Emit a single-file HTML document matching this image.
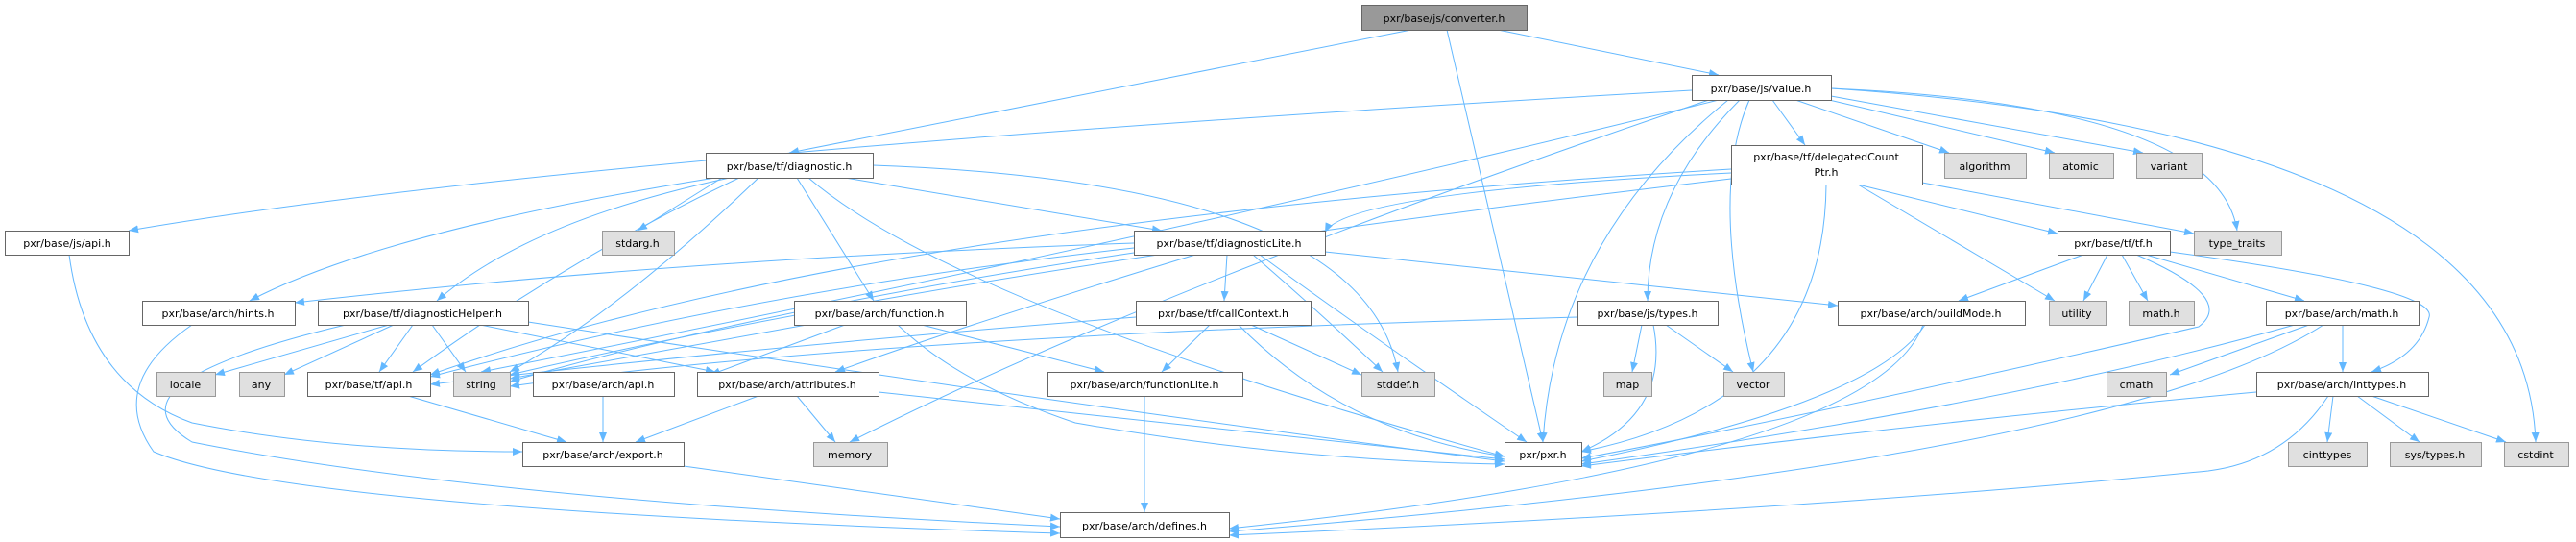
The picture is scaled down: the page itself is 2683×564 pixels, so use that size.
<!DOCTYPE html>
<html><head><meta charset="utf-8"><style>
html,body{margin:0;padding:0;background:#fff;}
svg{display:block}
text{font-family:"DejaVu Sans","Liberation Sans",sans-serif;font-size:11px;fill:#000;text-anchor:middle}
.w{fill:#fff;stroke:#666;stroke-width:1}
.g{fill:#e0e0e0;stroke:#999;stroke-width:1}
.r{fill:#999;stroke:#666;stroke-width:1}
.e{stroke:#63b8ff;stroke-width:1;fill:none;marker-end:url(#a)}
</style></head><body>
<svg width="2683" height="564" viewBox="0 0 2683 564" xmlns="http://www.w3.org/2000/svg">
<defs><marker id="a" markerWidth="10" markerHeight="8" refX="10" refY="4" orient="auto" markerUnits="userSpaceOnUse"><path d="M0,0 L10,4 L0,8 z" fill="#63b8ff"/></marker></defs>
<g>
<!-- converter -->
<path class="e" d="M1470,31 L822,159"/>
<path class="e" d="M1507,31 L1607,460"/>
<path class="e" d="M1560,31 L1790,78"/>
<!-- value -->
<path class="e" d="M1762,94 Q600,160 134,240"/>
<path class="e" d="M1780,104 Q1200,300 885,460"/>
<path class="e" d="M1790,104 Q1200,250 501,387"/>
<path class="e" d="M1800,104 Q1620,250 1607,460"/>
<path class="e" d="M1812,104 Q1716,200 1716,313"/>
<path class="e" d="M1822,104 Q1780,200 1826,387"/>
<path class="e" d="M1846,104 L1880,151"/>
<path class="e" d="M1870,104 L2030,159"/>
<path class="e" d="M1905,104 L2140,159"/>
<path class="e" d="M1907,100 L2232,159"/>
<path class="e" d="M1907,92 Q2310,110 2330,240"/>
<path class="e" d="M1907,92 Q2630,140 2641,460"/>
<!-- delegatedCountPtr -->
<path class="e" d="M1803,180 Q1400,200 1380,242"/>
<path class="e" d="M1803,176 Q900,230 448,390"/>
<path class="e" d="M1803,186 Q1000,280 531,390"/>
<path class="e" d="M1902,192 Q1900,420 1647,470"/>
<path class="e" d="M1935,192 L2143,243"/>
<path class="e" d="M1935,192 L2140,313"/>
<path class="e" d="M2002,190 L2285,243"/>
<!-- diagnostic -->
<path class="e" d="M752,185 L664,240"/>
<path class="e" d="M745,185 Q400,240 260,313"/>
<path class="e" d="M760,185 Q550,230 455,313"/>
<path class="e" d="M770,185 Q590,270 430,387"/>
<path class="e" d="M790,185 Q650,320 531,387"/>
<path class="e" d="M830,185 L910,313"/>
<path class="e" d="M842,185 Q1000,320 1567,475"/>
<path class="e" d="M880,185 L1210,240"/>
<path class="e" d="M909,172 Q1420,190 1456,387"/>
<!-- diagnosticLite -->
<path class="e" d="M1181,253 Q700,270 307,315"/>
<path class="e" d="M1181,258 Q800,300 448,392"/>
<path class="e" d="M1181,263 Q800,320 531,397"/>
<path class="e" d="M1245,265 Q1000,340 870,387"/>
<path class="e" d="M1278,265 L1275,313"/>
<path class="e" d="M1305,265 Q1380,330 1440,387"/>
<path class="e" d="M1312,265 Q1400,330 1590,460"/>
<path class="e" d="M1380,262 L1914,318"/>
<!-- diagnosticHelper -->
<path class="e" d="M405,338 L224,390"/>
<path class="e" d="M410,338 L296,390"/>
<path class="e" d="M430,338 L395,387"/>
<path class="e" d="M450,338 L485,387"/>
<path class="e" d="M500,338 L745,387"/>
<path class="e" d="M550,335 Q1100,420 1567,480"/>
<path class="e" d="M360,338 Q100,400 200,460 Q500,520 1104,548"/>
<!-- hints / jsapi -->
<path class="e" d="M200,338 Q110,400 160,470 Q300,530 1104,555"/>
<path class="e" d="M72,265 Q90,400 200,440 Q350,470 544,470"/>
<!-- tfapi, aapi, attr -->
<path class="e" d="M425,412 L590,460"/>
<path class="e" d="M628,412 L628,460"/>
<path class="e" d="M790,412 L662,460"/>
<path class="e" d="M830,412 L870,460"/>
<path class="e" d="M915,408 L1567,478"/>
<!-- function -->
<path class="e" d="M880,338 L740,390"/>
<path class="e" d="M840,338 L531,394"/>
<path class="e" d="M960,338 L1150,387"/>
<path class="e" d="M935,338 Q1000,400 1120,440 Q1350,480 1567,483"/>
<!-- callContext -->
<path class="e" d="M1183,330 Q800,360 448,400"/>
<path class="e" d="M1260,338 L1210,387"/>
<path class="e" d="M1303,338 L1418,390"/>
<path class="e" d="M1290,338 Q1400,450 1567,475"/>
<!-- functionLite, export -->
<path class="e" d="M1192,412 L1192,533"/>
<path class="e" d="M712,485 L1104,540"/>
<!-- types -->
<path class="e" d="M1643,330 Q900,350 531,402"/>
<path class="e" d="M1710,338 L1700,387"/>
<path class="e" d="M1722,338 Q1740,430 1647,470"/>
<path class="e" d="M1735,338 L1805,387"/>
<!-- tf.h -->
<path class="e" d="M2170,265 L2040,313"/>
<path class="e" d="M2195,265 L2170,313"/>
<path class="e" d="M2210,265 L2237,313"/>
<path class="e" d="M2235,265 L2400,313"/>
<path class="e" d="M2260,262 Q2540,300 2530,330 Q2520,370 2470,387"/>
<path class="e" d="M2225,265 Q2330,310 2290,340 Q1900,430 1647,477"/>
<!-- buildMode -->
<path class="e" d="M2005,338 Q1950,420 1647,480"/>
<path class="e" d="M2003,338 Q1950,480 1280,550"/>
<!-- arch/math -->
<path class="e" d="M2405,338 L2260,390"/>
<path class="e" d="M2440,338 L2440,387"/>
<path class="e" d="M2390,338 Q2100,420 1647,483"/>
<path class="e" d="M2420,338 Q2200,480 1280,553"/>
<!-- inttypes -->
<path class="e" d="M2430,412 L2424,460"/>
<path class="e" d="M2455,412 L2520,460"/>
<path class="e" d="M2470,412 L2610,460"/>
<path class="e" d="M2350,408 Q2000,440 1647,485"/>
<path class="e" d="M2425,412 Q2380,480 2300,490 Q1900,530 1280,557"/>
</g>
<g>
<rect class="r" x="1418.5" y="5.5" width="172" height="26"/><text x="1504" y="23">pxr/base/js/converter.h</text>
<rect class="w" x="1762.5" y="78.5" width="145" height="26"/><text x="1834" y="96">pxr/base/js/value.h</text>
<rect class="w" x="735.5" y="159.5" width="174" height="26"/><text x="822" y="177">pxr/base/tf/diagnostic.h</text>
<rect class="w" x="1803.5" y="151.5" width="199" height="41"/><text x="1902" y="167">pxr/base/tf/delegatedCount</text><text x="1902" y="183">Ptr.h</text>
<rect class="g" x="2025.5" y="159.5" width="85" height="26"/><text x="2067" y="177">algorithm</text>
<rect class="g" x="2134.5" y="159.5" width="67" height="26"/><text x="2167" y="177">atomic</text>
<rect class="g" x="2225.5" y="159.5" width="68" height="26"/><text x="2259" y="177">variant</text>
<rect class="w" x="5.5" y="240.5" width="129" height="25"/><text x="70" y="257">pxr/base/js/api.h</text>
<rect class="g" x="627.5" y="240.5" width="75" height="25"/><text x="664" y="257">stdarg.h</text>
<rect class="w" x="1181.5" y="240.5" width="199" height="25"/><text x="1280" y="257">pxr/base/tf/diagnosticLite.h</text>
<rect class="w" x="2143.5" y="240.5" width="117" height="25"/><text x="2201" y="257">pxr/base/tf/tf.h</text>
<rect class="g" x="2285.5" y="240.5" width="91" height="25"/><text x="2330" y="257">type_traits</text>
<rect class="w" x="148.5" y="313.5" width="159" height="25"/><text x="227" y="330">pxr/base/arch/hints.h</text>
<rect class="w" x="331.5" y="313.5" width="219" height="25"/><text x="440" y="330">pxr/base/tf/diagnosticHelper.h</text>
<rect class="w" x="827.5" y="313.5" width="179" height="25"/><text x="916" y="330">pxr/base/arch/function.h</text>
<rect class="w" x="1183.5" y="313.5" width="182" height="25"/><text x="1274" y="330">pxr/base/tf/callContext.h</text>
<rect class="w" x="1643.5" y="313.5" width="146" height="25"/><text x="1716" y="330">pxr/base/js/types.h</text>
<rect class="w" x="1914.5" y="313.5" width="195" height="25"/><text x="2011" y="330">pxr/base/arch/buildMode.h</text>
<rect class="g" x="2134.5" y="313.5" width="59" height="25"/><text x="2163" y="330">utility</text>
<rect class="g" x="2217.5" y="313.5" width="68" height="25"/><text x="2251" y="330">math.h</text>
<rect class="w" x="2360.5" y="313.5" width="159" height="25"/><text x="2439" y="330">pxr/base/arch/math.h</text>
<rect class="g" x="163.5" y="387.5" width="61" height="25"/><text x="193" y="404">locale</text>
<rect class="g" x="249.5" y="387.5" width="47" height="25"/><text x="272" y="404">any</text>
<rect class="w" x="320.5" y="387.5" width="128" height="25"/><text x="384" y="404">pxr/base/tf/api.h</text>
<rect class="g" x="472.5" y="387.5" width="59" height="25"/><text x="501" y="404">string</text>
<rect class="w" x="555.5" y="387.5" width="147" height="25"/><text x="628" y="404">pxr/base/arch/api.h</text>
<rect class="w" x="726.5" y="387.5" width="189" height="25"/><text x="820" y="404">pxr/base/arch/attributes.h</text>
<rect class="w" x="1091.5" y="387.5" width="203" height="25"/><text x="1192" y="404">pxr/base/arch/functionLite.h</text>
<rect class="g" x="1418.5" y="387.5" width="76" height="25"/><text x="1456" y="404">stddef.h</text>
<rect class="g" x="1670.5" y="387.5" width="50" height="25"/><text x="1695" y="404">map</text>
<rect class="g" x="1795.5" y="387.5" width="63" height="25"/><text x="1826" y="404">vector</text>
<rect class="g" x="2194.5" y="387.5" width="62" height="25"/><text x="2225" y="404">cmath</text>
<rect class="w" x="2350.5" y="387.5" width="179" height="25"/><text x="2439" y="404">pxr/base/arch/inttypes.h</text>
<rect class="w" x="544.5" y="460.5" width="168" height="25"/><text x="628" y="477">pxr/base/arch/export.h</text>
<rect class="g" x="847.5" y="460.5" width="77" height="25"/><text x="885" y="477">memory</text>
<rect class="w" x="1567.5" y="460.5" width="80" height="25"/><text x="1607" y="477">pxr/pxr.h</text>
<rect class="g" x="2383.5" y="460.5" width="82" height="25"/><text x="2424" y="477">cinttypes</text>
<rect class="g" x="2489.5" y="460.5" width="95" height="25"/><text x="2536" y="477">sys/types.h</text>
<rect class="g" x="2608.5" y="460.5" width="67" height="25"/><text x="2641" y="477">cstdint</text>
<rect class="w" x="1104.5" y="533.5" width="176" height="26"/><text x="1192" y="551">pxr/base/arch/defines.h</text>
</g>
</svg>
</body></html>
